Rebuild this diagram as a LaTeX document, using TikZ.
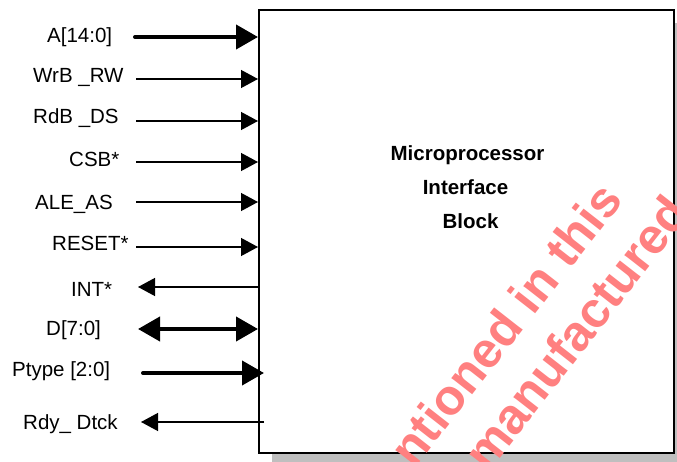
\documentclass[tikz,border=0pt]{standalone}
\usepackage{fontspec}
\setmainfont{Liberation Sans}
\usetikzlibrary{arrows.meta,shadows}

\begin{document}
\begin{tikzpicture}[
  x=1pt, y=-1pt,
  block/.style={draw, line width=2pt, fill=white, minimum width=415pt, minimum height=443pt,
    drop shadow={shadow xshift=13pt, shadow yshift=-13pt}},
  pin/.style={anchor=base west, inner sep=0pt, font=\fontsize{20.5}{24}\selectfont},
  title/.style={anchor=base, inner sep=0pt, font=\fontsize{20.5}{24}\selectfont\bfseries},
  sig/.style={-{Triangle[length=17pt, width=18pt]}, line width=1.3pt},
  bus/.style={-{Triangle[length=22pt, width=24pt]}, line width=4pt, line cap=round},
  wmark/.style={anchor=base west, rotate=52, inner sep=0pt, text=red!50,
    font=\fontsize{50}{54}\selectfont\bfseries}
]
\useasboundingbox (0,0) rectangle (677,462);
\clip (0,0) rectangle (677,462);

\node[block] (mpi) at (466.5,231.5) {};
\node[title] (ttl1) at (467.5,161) {Microprocessor};
\node[title] (ttl2) at (465.5,195) {Interface};
\node[title] (ttl3) at (470.5,229) {Block};

% signal names
\node[pin] (addr) at (47,43) {A[14:0]};
\node[pin] (wrb) at (33,83) {WrB \_RW};
\node[pin] (rdb) at (33,124) {RdB \_DS};
\node[pin] (csb) at (69,167) {CSB*};
\node[pin] (ale) at (35,210) {ALE\_AS};
\node[pin] (rst) at (52,251) {RESET*};
\node[pin] (intr) at (71,296) {INT*};
\node[pin] (data) at (46,335) {D[7:0]};
\node[pin] (ptype) at (12,376) {Ptype [2:0]};
\node[pin] (rdy) at (23,429) {Rdy\_ Dtck};

% free ends of the lines
\coordinate (addrEnd) at (135,37);
\coordinate (wrbEnd) at (136,79);
\coordinate (rdbEnd) at (136,121);
\coordinate (csbEnd) at (136,162);
\coordinate (aleEnd) at (136,202);
\coordinate (rstEnd) at (136,247);
\coordinate (intrEnd) at (138,287);
\coordinate (dataEnd) at (138,329);
\coordinate (ptypeEnd) at (143,373);
\coordinate (rdyEnd) at (141,422);

\draw[bus] (addrEnd) -- (addrEnd -| mpi.west);
\draw[sig] (wrbEnd) -- (wrbEnd -| mpi.west);
\draw[sig] (rdbEnd) -- (rdbEnd -| mpi.west);
\draw[sig] (csbEnd) -- (csbEnd -| mpi.west);
\draw[sig] (aleEnd) -- (aleEnd -| mpi.west);
\draw[sig] (rstEnd) -- (rstEnd -| mpi.west);
\draw[sig] (intrEnd -| mpi.west) -- (intrEnd);
\draw[bus, {Triangle[length=22pt, width=24pt]}-{Triangle[length=22pt, width=24pt]}] (dataEnd) -- (dataEnd -| mpi.west);
\draw[bus] (ptypeEnd) -- ([xshift=6pt]ptypeEnd -| mpi.west);
\draw[sig] ([xshift=6pt]rdyEnd -| mpi.west) -- (rdyEnd);

% watermark
\node[wmark] (wm1) at (414,470) {ntioned in this};
\node[wmark] (wm2) at (488,474) {manufactured};
\end{tikzpicture}
\end{document}
